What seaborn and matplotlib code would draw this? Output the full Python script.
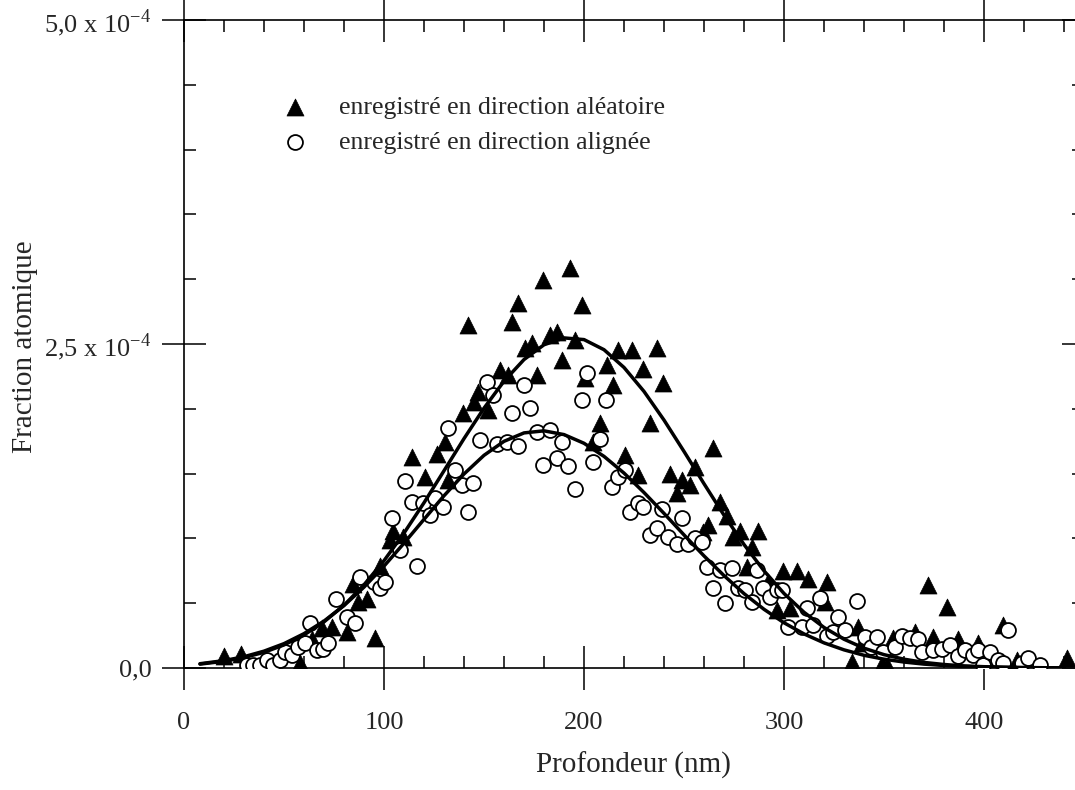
import matplotlib
matplotlib.use('Agg')
import matplotlib.pyplot as plt
import seaborn as sns
from matplotlib.ticker import FixedLocator, MultipleLocator

# Profondeur (nm) / fraction atomique (en unites de 1e-4)
x_random = [20, 28.5, 58, 64, 69, 74, 81.5, 84.5, 87, 91.5,
            95.5, 98, 103, 104.5, 109.5, 114, 120.5, 126.5, 130.5, 132,
            139.5, 142, 145, 147, 152, 158, 162, 164, 167, 170.5,
            174, 176.5, 179.5, 183, 186.5, 189, 193, 195.5, 199, 200.5,
            204.5, 208, 211.5, 214.5, 217, 220.5, 224, 227, 229.5, 233,
            236.5, 239.5, 243, 246.5, 249, 253, 255.5, 259.5, 262, 264.5,
            268, 271.5, 274.5, 278, 281.5, 284, 287, 292, 296.5, 299.5,
            303, 306.5, 312, 320.5, 321.5, 334, 337, 339, 344, 349,
            351.5, 354.5, 365.5, 372, 374.5, 381.5, 387, 397, 409.5, 416.5,
            441.5]
y_random = [0.09, 0.11, 0.04, 0.22, 0.31, 0.32, 0.28, 0.65, 0.51, 0.53,
            0.23, 0.79, 0.99, 1.06, 1.01, 1.63, 1.47, 1.65, 1.74, 1.45,
            1.97, 2.65, 2.05, 2.13, 1.99, 2.30, 2.26, 2.67, 2.82, 2.47,
            2.51, 2.26, 2.99, 2.57, 2.59, 2.38, 3.09, 2.53, 2.80, 2.24,
            1.74, 1.89, 2.34, 2.18, 2.45, 1.64, 2.45, 1.49, 2.31, 1.89,
            2.47, 2.20, 1.50, 1.35, 1.45, 1.41, 1.55, 1.05, 1.10, 1.70,
            1.28, 1.17, 1.01, 1.06, 0.78, 0.93, 1.06, 0.66, 0.45, 0.75,
            0.46, 0.75, 0.69, 0.51, 0.66, 0.05, 0.32, 0.19, 0.21, 0.03,
            0.02, 0.23, 0.28, 0.64, 0.24, 0.47, 0.22, 0.19, 0.33, 0.06,
            0.08]

x_aligned = [31.5, 34.5, 38, 41.5, 44.5, 48, 50.5, 54, 57, 60.5,
             63, 66.5, 69.5, 72, 76, 81.5, 85.5, 88, 95, 98,
             100.5, 104, 108, 110.5, 114, 116.5, 119.5, 123, 125.5, 129.5,
             132, 135.5, 139, 142, 144.5, 148, 151.5, 154.5, 156.5, 161.5,
             164, 167, 170, 173, 176.5, 179.5, 183, 186.5, 189, 192,
             195.5, 199, 201.5, 204.5, 208, 211, 214, 217, 220.5, 223,
             227, 229.5, 233, 236.5, 239, 242, 246.5, 249, 252, 255.5,
             259, 261.5, 264.5, 268, 270.5, 274, 277, 280.5, 284, 286.5,
             289.5, 293, 296.5, 299, 302, 309, 311.5, 314.5, 318, 321.5,
             324.5, 327, 330.5, 336.5, 340.5, 343.5, 346.5, 349.5, 355.5, 359,
             363, 367, 369, 374.5, 379, 383, 387, 390.5, 394.5, 397,
             399.5, 403, 407, 409.5, 412, 419, 422, 428]
y_aligned = [0.02, 0.02, 0.02, 0.06, 0.02, 0.06, 0.12, 0.10, 0.16, 0.19,
             0.35, 0.14, 0.15, 0.19, 0.53, 0.39, 0.35, 0.70, 0.66, 0.62,
             0.66, 1.16, 0.91, 1.44, 1.28, 0.79, 1.27, 1.18, 1.31, 1.24,
             1.85, 1.53, 1.41, 1.20, 1.43, 1.76, 2.21, 2.11, 1.73, 1.74,
             1.97, 1.71, 2.18, 2.01, 1.82, 1.57, 1.84, 1.62, 1.74, 1.56,
             1.38, 2.07, 2.28, 1.59, 1.77, 2.07, 1.40, 1.47, 1.53, 1.20,
             1.27, 1.24, 1.03, 1.08, 1.23, 1.01, 0.96, 1.16, 0.96, 1.00,
             0.97, 0.78, 0.62, 0.76, 0.50, 0.77, 0.62, 0.60, 0.51, 0.76,
             0.62, 0.55, 0.60, 0.60, 0.32, 0.32, 0.46, 0.33, 0.54, 0.25,
             0.28, 0.39, 0.29, 0.52, 0.24, 0.16, 0.24, 0.12, 0.16, 0.25,
             0.23, 0.22, 0.12, 0.14, 0.15, 0.18, 0.09, 0.14, 0.10, 0.14,
             0.02, 0.12, 0.06, 0.04, 0.29, 0.04, 0.08, 0.02]

# courbes ajustees
x_fit = [8, 20, 30, 40, 50, 60, 70, 80, 90, 100, 110, 120, 130, 140, 150,
         160, 170, 180, 190, 200, 210, 220, 230, 240, 250, 260, 270, 280,
         290, 300, 310, 320, 330, 340, 350, 360, 370, 380, 390, 400, 410,
         420, 430, 440]
fit_random = [0.030, 0.052, 0.081, 0.121, 0.178, 0.255, 0.356, 0.484, 0.642,
              0.828, 1.041, 1.275, 1.522, 1.770, 2.005, 2.213, 2.380, 2.494,
              2.547, 2.534, 2.456, 2.319, 2.134, 1.913, 1.671, 1.422, 1.179,
              0.953, 0.750, 0.575, 0.430, 0.313, 0.222, 0.153, 0.103, 0.068,
              0.043, 0.027, 0.016, 0.010, 0.006, 0.003, 0.002, 0.001]
fit_aligned = [0.033, 0.057, 0.087, 0.130, 0.188, 0.265, 0.362, 0.482, 0.624,
               0.786, 0.963, 1.147, 1.329, 1.497, 1.641, 1.749, 1.814, 1.830,
               1.801, 1.734, 1.633, 1.504, 1.354, 1.193, 1.027, 0.865, 0.713,
               0.574, 0.453, 0.349, 0.263, 0.194, 0.140, 0.098, 0.068, 0.046,
               0.030, 0.019, 0.012, 0.008, 0.005, 0.003, 0.002, 0.001]

label_random = 'enregistré en direction aléatoire'
label_aligned = 'enregistré en direction alignée'
xticks = [0, 100, 200, 300, 400]
yticks = [0, 2.5, 5]
ytick_labels = ['0,0', '2,5 x 10$^{\\mathregular{-4}}$', '5,0 x 10$^{\\mathregular{-4}}$']

sns.set_style('ticks')
plt.rcParams['font.family'] = ['Liberation Serif', 'DejaVu Serif']
plt.rcParams['mathtext.fontset'] = 'custom'
plt.rcParams['mathtext.rm'] = 'Liberation Serif'

fig = plt.figure(figsize=(10.75, 7.9), dpi=100)
ax = fig.add_axes([184 / 1075, 122 / 790, 900 / 1075, 648 / 790])

sns.scatterplot(x=x_random, y=y_random, marker='^', s=150, color='black',
                edgecolor='black', linewidth=0.5, label=label_random, ax=ax, zorder=2)
sns.scatterplot(x=x_aligned, y=y_aligned, marker='o', s=115, facecolor='white',
                edgecolor='black', linewidth=1.3, label=label_aligned, ax=ax, zorder=3)
sns.lineplot(x=x_fit, y=fit_random, color='black', linewidth=2.5, ax=ax, zorder=4)
sns.lineplot(x=x_fit, y=fit_aligned, color='black', linewidth=2.5, ax=ax, zorder=4)

ax.set_xlim(0, 450)
ax.set_ylim(0, 5)
ax.xaxis.set_major_locator(FixedLocator(xticks))
ax.xaxis.set_minor_locator(MultipleLocator(20))
ax.yaxis.set_major_locator(FixedLocator(yticks))
ax.yaxis.set_minor_locator(MultipleLocator(0.5))
ax.set_xticklabels([str(t) for t in xticks])
ax.set_yticklabels(ytick_labels)

ax.tick_params(which='both', top=True, right=True, width=1.1, color='black')
ax.tick_params(which='major', direction='inout', length=31, labelsize=19)
ax.tick_params(which='minor', direction='in', length=8.5)
ax.tick_params(axis='x', which='major', pad=16)
ax.tick_params(axis='y', which='major', pad=8)
for sp in ax.spines.values():
    sp.set_linewidth(1.2)
    sp.set_color('black')

ax.set_xlabel('')
ax.set_ylabel('')
fig.text(633 / 1075, 1 - 765 / 790, 'Profondeur (nm)', fontsize=21, ha='center', va='center')
fig.text(25 / 1075, 1 - 347 / 790, 'Fraction atomique', fontsize=21, rotation=90,
         ha='center', va='center')

handles, labels = ax.get_legend_handles_labels()
ax.legend(handles, labels, loc='upper left', bbox_to_anchor=(282 / 1075, 1 - 96 / 790),
          bbox_transform=fig.transFigure, frameon=False, fontsize=18.5,
          handlelength=1.0, handletextpad=1.2, labelspacing=0.45,
          borderpad=0, borderaxespad=0)

fig.savefig('out.png', dpi=100)
